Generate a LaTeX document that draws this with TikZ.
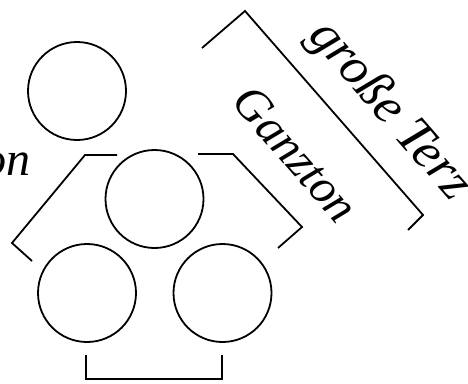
\documentclass[tikz,border=0pt]{standalone}
\usepackage{fontspec}
\setmainfont{Liberation Serif}

\tikzset{
	note/.style = {draw, circle, line width=1.8pt, minimum size=98pt, inner sep=0pt},
	bracket/.style = {line width=1.8pt},
	interval/.style = {font=\fontsize{48}{56}\selectfont\itshape, inner sep=0pt}
}

\begin{document}
\begin{tikzpicture}[x=1pt,y=-1pt]
	\useasboundingbox (0,0) rectangle (468,383);
	\node[note] (single) at (77,91) {};
	\node[note] (top) at (154.5,199) {};
	\node[note] (left) at (87,293) {};
	\node[note] (right) at (222.5,293) {};
	% brackets round the triangle
	\draw[bracket] (86,355) -- (86,379) -- (222,379) -- (222,355);
	\draw[bracket] (117,155) -- (85,155) -- (12,243) -- (32,261);
	\draw[bracket] (198,154) -- (233,154) -- (302,227) -- (278,248);
	\draw[bracket] (202,48) -- (245,11) -- (423,215) -- (408,230);
	\node[interval, anchor=base east] (lefttext) at (31,175) {Ganzton};
	\node[interval, rotate=-49, font=\fontsize{52}{60}\selectfont\itshape] (terz) at (389,111) {große Terz};
	\node[interval, rotate=-49] (ganz) at (296,154) {Ganzton};
\end{tikzpicture}
\end{document}
